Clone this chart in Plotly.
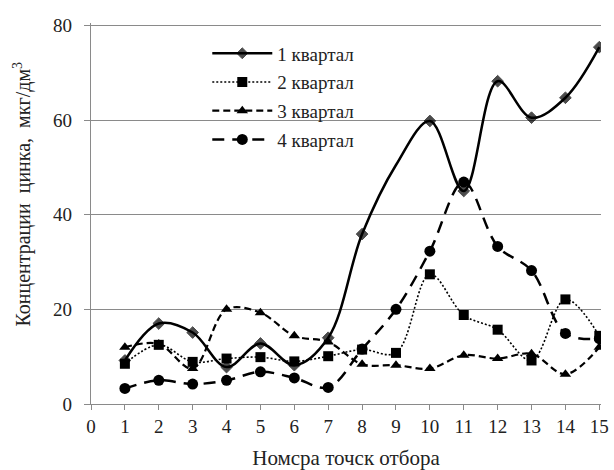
import plotly.graph_objects as go

points = list(range(1, 16))
q1 = [9.2, 17.0, 15.1, 7.8, 12.8, 8.2, 14.0, 35.9, 50.5, 59.8, 45.0, 68.2, 60.5, 64.7, 75.4]
q2 = [8.5, 12.5, 8.9, 9.6, 9.9, 9.0, 10.1, 11.5, 10.8, 27.4, 18.8, 15.7, 9.2, 22.1, 14.4]
q3 = [12.0, 12.7, 7.5, 20.0, 19.3, 14.4, 13.1, 8.4, 8.2, 7.5, 10.3, 9.6, 10.6, 6.3, 12.0]
q4 = [3.3, 5.0, 4.2, 5.0, 6.8, 5.5, 3.5, 11.6, 20.0, 32.3, 46.9, 33.3, 28.2, 14.9, 13.8]
names = ["1 квартал", "2 квартал", "3 квартал", "4 квартал"]
x_ticks = list(range(0, 16))
y_ticks = [0, 20, 40, 60, 80]

FONT = "Liberation Serif"

fig = go.Figure()

q1_sizes = [9] * len(points)
q1_sizes[8] = 0  # no marker drawn at point 9 in the reference

styles = [
    (q1, dict(color="black", width=2.5, dash="solid"), dict(symbol="diamond", size=q1_sizes, color="black", line=dict(color="black", width=1))),
    (q2, dict(color="black", width=1.6, dash="2px,2px"), dict(symbol="square", size=10, color="black")),
    (q3, dict(color="black", width=2.2, dash="7px,4px"), dict(symbol="triangle-up", size=10, color="black")),
    (q4, dict(color="black", width=2.5, dash="12px,8px"), dict(symbol="circle", size=11, color="black")),
]

for i, (vals, line, marker) in enumerate(styles):
    fig.add_trace(go.Scatter(
        x=points, y=vals, name=names[i], mode="lines+markers",
        line=dict(shape="spline", smoothing=1, **line),
        marker=marker, legendgroup=str(i),
    ))

fig.update_layout(
    width=614, height=470,
    margin=dict(l=91, r=13, t=23, b=66),
    paper_bgcolor="white", plot_bgcolor="white",
    font=dict(family=FONT, size=19, color="#222"),
    showlegend=True,
    legend=dict(
        x=0.228, y=0.97, xanchor="left", yanchor="top",
        bgcolor="rgba(0,0,0,0)", font=dict(family=FONT, size=19, color="#222"),
        traceorder="grouped", tracegroupgap=1, itemwidth=60,
    ),
    xaxis=dict(
        range=[0, 15.05], tickmode="array", tickvals=x_ticks,
        showgrid=False, showline=True, linecolor="#8a8a8a", linewidth=1.2,
        ticks="outside", ticklen=5, tickcolor="#8a8a8a",
        tickfont=dict(family=FONT, size=19, color="#222"),
        title=dict(text="Номсра точск отбора", font=dict(family=FONT, size=21, color="#222"), standoff=14),
        zeroline=False, automargin=False,
    ),
    yaxis=dict(
        range=[0, 80.5], tickmode="array", tickvals=y_ticks,
        showgrid=True, gridcolor="#8a8a8a", gridwidth=1,
        showline=True, linecolor="#8a8a8a", linewidth=1.2,
        ticks="outside", ticklen=6, tickcolor="#8a8a8a",
        tickfont=dict(family=FONT, size=19, color="#222"),
        ticklabelstandoff=8,
        zeroline=False, automargin=False,
    ),
    annotations=[dict(
        text="Концентрации\u00a0\u00a0цинка,\u00a0\u00a0мкг/дм<sup>3</sup>",
        xref="paper", yref="paper", x=-0.135, y=0.55, textangle=-90,
        showarrow=False, font=dict(family=FONT, size=20, color="#222"),
        xanchor="center", yanchor="middle",
    )],
)

fig.write_html("out.html")
